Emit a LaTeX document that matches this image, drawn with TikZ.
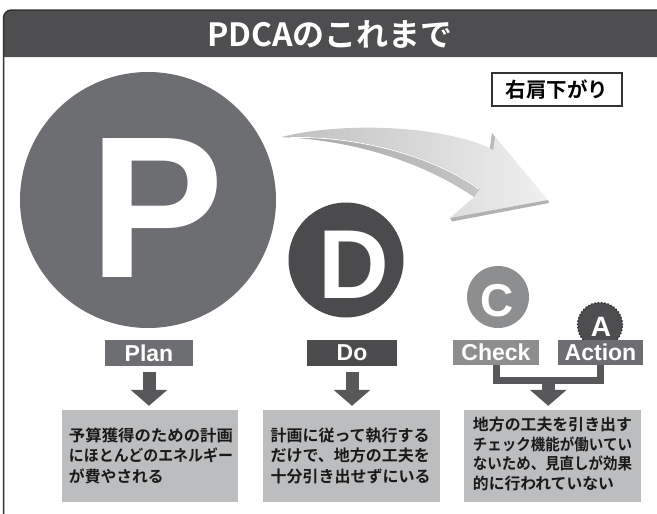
\documentclass[tikz,border=0pt]{standalone}
\usepackage{fontspec}
\usepackage{graphicx}
\setmainfont{Liberation Sans}
\newfontfamily\jpb{Noto Sans CJK JP Bold}
\usetikzlibrary{arrows.meta,calc}
\definecolor{hdr}{HTML}{4E4E50}
\definecolor{gP}{HTML}{6D6E71}
\definecolor{gD}{HTML}{4B4B4D}
\definecolor{gC}{HTML}{8D8E90}
\definecolor{arr}{HTML}{58585A}
\definecolor{boxg}{HTML}{BCBDBF}
\definecolor{frm}{HTML}{333333}
\newcommand{\fitrow}[2]{\resizebox{#1}{\height}{#2}}
\begin{document}
\begin{tikzpicture}[x=1pt,y=-1pt,
  lab/.style={minimum height=26pt, inner sep=0pt, text=white, font=\bfseries\fontsize{23}{23}\selectfont},
  txtbox/.style={fill=boxg, inner sep=0pt, minimum height=92pt},
  boxtext/.style={align=left, inner sep=0pt, font=\jpb\fontsize{15.8}{19.5}\selectfont, text=black!90},
  downarr/.style={draw=arr, line width=13pt, -{Triangle[width=36pt,length=16pt]}},
  conn/.style={draw=arr, line width=7pt},
  bigletter/.style={inner sep=0pt, text=white, anchor=base, font=\bfseries},
]
\useasboundingbox (0,0) rectangle (657,514);
\clip (0,0) rectangle (657,514);
% frame and header
\fill[hdr] (3.5,57) [rounded corners=8pt] |- (680,10) [sharp corners] -- (680,57) -- cycle;
\draw[frm, line width=1.5pt] (3.5,530) [rounded corners=8pt] |- (680,10);
\node[text=white, inner sep=0pt, font=\jpb\fontsize{32}{32}\selectfont] (title) at (330,34) {PDCAのこれまで};
% label box top right
\node[draw=frm, line width=1.3pt, fill=white, minimum width=130pt, minimum height=33pt, inner sep=0pt,
  font=\jpb\fontsize{20.5}{20.5}\selectfont] (trend) at (557,89.5) {右肩下がり};
% big curved arrow
\shade[left color=gray!50, right color=gray!12]
  (282,137) .. controls (330,124) and (430,122) .. (490,148) -- (492,133) -- (548,200) -- (450,218) -- (474,197)
  .. controls (420,160) and (350,140) .. (282,137) -- cycle;
\shade[left color=gray!70, right color=gray!45]
  (282,137) .. controls (352,135) and (428,152) .. (480,189) -- (474,197)
  .. controls (420,160) and (350,140) .. (282,137) -- cycle;
\draw[white, line width=0.8pt] (290,137.5) .. controls (352,136) and (428,153) .. (479,189);
\fill[gray!60] (548,200) -- (450,218) -- (452,221.5) -- (549,203) -- cycle;
\fill[gray!55] (490,148) -- (492,133) -- (495,137) -- (493,150) -- cycle;
% circles
\node[circle, fill=gP, minimum size=256pt, inner sep=0pt] (pc) at (148,200) {};
\node[bigletter, font=\bfseries\fontsize{202}{202}\selectfont] (pl) at (157,277) {P};
\node[circle, fill=gD, minimum size=115pt, inner sep=0pt] (dc) at (346,260) {};
\node[bigletter, font=\bfseries\fontsize{98}{98}\selectfont] (dl) at (354,298) {D};
\node[circle, fill=gC, minimum size=62pt, inner sep=0pt] (cc) at (498,297) {};
\node[bigletter, font=\bfseries\fontsize{46}{46}\selectfont] (cl) at (497,316) {C};
\node[circle, fill=hdr, draw=black!85, dotted, line width=1.3pt, minimum size=45pt, inner sep=0pt] (ac) at (600,325) {};
\node[bigletter, font=\bfseries\fontsize{28}{28}\selectfont] (al) at (601,336) {A};
% labels
\node[lab, fill=gP, minimum width=88pt] (plan) at (149,353) {Plan};
\node[lab, fill=gD, minimum width=90pt] (do) at (352,353) {Do};
\node[lab, fill=gC, minimum width=86pt, minimum height=25pt] (check) at (496,352) {Check};
\node[lab, fill=gP, minimum width=85pt, minimum height=25pt] (action) at (600.5,352) {Action};
% text boxes
\node[txtbox, minimum width=176pt] (pbox) at (150,456) {};
\node[boxtext, font=\jpb\fontsize{15.8}{20.5}\selectfont] (ptxt) at (151,455.5)
  {\fitrow{164pt}{予算獲得のための計画}\\\fitrow{164pt}{にほとんどのエネルギー}\\が費やされる};
\node[txtbox, minimum width=177pt] (dbox) at (351.5,456) {};
\node[boxtext, font=\jpb\fontsize{16}{20.5}\selectfont] (dtxt) at (350.5,455.5)
  {計画に従って執行する\\だけで、地方の工夫を\\十分引き出せずにいる};
\node[txtbox, minimum width=177pt] (cbox) at (552.5,456) {};
\node[boxtext] (ctxt) at (552.5,454)
  {\fitrow{159pt}{地方の工夫を引き出す}\\\fitrow{159pt}{チェック機能が働いてい}\\\fitrow{159pt}{ないため、見直しが効果}\\的に行われていない};
% arrows
\draw[downarr] ($(plan.south)+(0,6)$) -- ($(plan.south |- pbox.north)+(0,-4)$);
\draw[downarr] ($(do.south)+(0,6)$) -- ($(do.south |- dbox.north)+(0,-4)$);
\draw[conn] (check.south) -- ++(0,16) -| (action.south);
\coordinate (camid) at ($(check.south)!0.5!(action.south)+(0,16)$);
\draw[downarr] (camid) -- ($(camid |- cbox.north)+(0,-4)$);
\end{tikzpicture}
\end{document}
